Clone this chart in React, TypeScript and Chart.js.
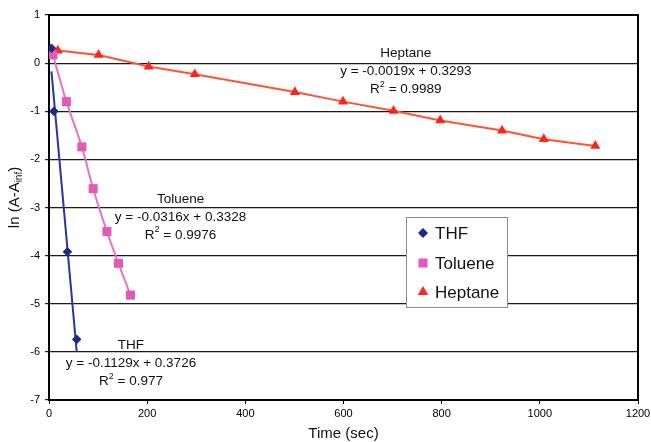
import React, { useEffect, useRef } from 'react';
import { Chart, registerables } from 'chart.js';

Chart.register(...registerables);

const FONT = '"Liberation Sans", Arial, Helvetica, sans-serif';

// ---- data ----
const thfTime = [5, 10, 37.5, 56.5];
const thfLn = [0.31, -1.0, -3.92, -5.74];
const thfFitTime = [5, 56.5];
const thfFitLn = [-0.17, -6.0];

const tolTime = [8, 35.5, 67, 90, 118, 141.5, 166];
const tolLn = [0.17, -0.8, -1.74, -2.61, -3.5, -4.16, -4.82];

const hepTime = [18, 101, 203, 297, 501, 599, 702, 797, 923, 1008, 1113];
const hepLn = [0.26, 0.17, -0.07, -0.23, -0.6, -0.8, -0.99, -1.19, -1.4, -1.58, -1.72];

const seriesNames = ['THF', 'Toluene', 'Heptane'];
const fitNames = ['Heptane', 'Toluene', 'THF'];
const fitEquations = ['y = -0.0019x + 0.3293', 'y = -0.0316x + 0.3328', 'y = -0.1129x + 0.3726'];
const fitR2 = ['0.9989', '0.9976', '0.977'];

const xMin = 0, xMax = 1200, xStep = 200;
const yMin = -7, yMax = 1, yStep = 1;
const xTitle = 'Time (sec)';
const yTitleMain = 'ln (A-A';
const yTitleSub = 'inf';
const yTitleEnd = ')';

// ---- styles ----
const THF_MARK = '#1c2a86';
const THF_LINE = '#2636a2';
const TOL_MARK = '#e05ab6';
const TOL_LINE = '#e674c4';
const HEP_MARK = '#ff2418';
const HEP_LINE = '#ff5236';

// anchor (data coords) of the fit label blocks, same order as fitNames
const fitAnchorX = [727, 268, 167];
const fitAnchorY = [0.21, -2.82, -5.86];

const pts = (xs: number[], ys: number[]) => xs.map((x, i) => ({ x, y: ys[i] }));

function drawMarker(ctx: CanvasRenderingContext2D, kind: string, x: number, y: number, r: number, color: string) {
  ctx.save();
  ctx.fillStyle = color;
  ctx.beginPath();
  if (kind === 'diamond') {
    ctx.moveTo(x - r, y); ctx.lineTo(x, y - r); ctx.lineTo(x + r, y); ctx.lineTo(x, y + r);
  } else if (kind === 'square') {
    ctx.rect(x - r, y - r, 2 * r, 2 * r);
  } else {
    const h = Math.sqrt(3) * r;
    ctx.moveTo(x, y - r); ctx.lineTo(x + h / 2, y + r / 2); ctx.lineTo(x - h / 2, y + r / 2);
  }
  ctx.closePath();
  ctx.fill();
  ctx.restore();
}

const overlayPlugin = {
  id: 'overlay',
  afterDraw(chart: any) {
    const { ctx, chartArea, scales } = chart;
    const xs = scales.x, ys = scales.y;
    ctx.save();
    // top and right borders
    ctx.strokeStyle = '#000';
    ctx.lineWidth = 2;
    ctx.beginPath();
    ctx.moveTo(chartArea.left, chartArea.top);
    ctx.lineTo(chartArea.right, chartArea.top);
    ctx.lineTo(chartArea.right, chartArea.bottom);
    ctx.stroke();

    // fit labels
    ctx.fillStyle = '#111';
    ctx.textBaseline = 'middle';
    const f = `13.5px ${FONT}`;
    const fs = `9px ${FONT}`;
    for (let i = 0; i < fitNames.length; i++) {
      const cx = xs.getPixelForValue(fitAnchorX[i]);
      const cy = ys.getPixelForValue(fitAnchorY[i]);
      ctx.font = f;
      ctx.textAlign = 'center';
      ctx.fillText(fitNames[i], cx, cy);
      ctx.fillText(fitEquations[i], cx, cy + 18);
      ctx.textAlign = 'left';
      const rest = ' = ' + fitR2[i];
      ctx.font = f;
      const wR = ctx.measureText('R').width;
      const wRest = ctx.measureText(rest).width;
      ctx.font = fs;
      const w2 = ctx.measureText('2').width;
      const total = wR + w2 + wRest;
      const sx = cx - total / 2;
      const ly = cy + 36;
      ctx.font = f;
      ctx.fillText('R', sx, ly);
      ctx.font = fs;
      ctx.fillText('2', sx + wR, ly - 5);
      ctx.font = f;
      ctx.fillText(rest, sx + wR + w2, ly);
    }

    // legend box
    const lx = 406, ly0 = 217, lw = 101, lh = 90;
    ctx.fillStyle = '#fff';
    ctx.fillRect(lx, ly0, lw, lh);
    ctx.strokeStyle = '#8a8a8a';
    ctx.lineWidth = 1;
    ctx.strokeRect(lx + 0.5, ly0 + 0.5, lw, lh);
    const kinds = ['diamond', 'square', 'triangle'];
    const cols = [THF_MARK, TOL_MARK, HEP_MARK];
    const rads = [5, 4.5, 6];
    const rowY = [233, 263, 292];
    ctx.font = `17px ${FONT}`;
    ctx.textAlign = 'left';
    ctx.textBaseline = 'middle';
    for (let i = 0; i < 3; i++) {
      drawMarker(ctx, kinds[i], 423, rowY[i], rads[i], cols[i]);
      ctx.fillStyle = '#111';
      ctx.fillText(seriesNames[i], 435, rowY[i] + 1);
    }

    // x title
    ctx.font = `15px ${FONT}`;
    ctx.textAlign = 'center';
    ctx.fillStyle = '#111';
    ctx.fillText(xTitle, (chartArea.left + chartArea.right) / 2, 434);

    // y title (rotated, with subscript)
    ctx.save();
    ctx.translate(15, 197.5);
    ctx.rotate(-Math.PI / 2);
    const fm = `15px ${FONT}`;
    const fsub = `10px ${FONT}`;
    ctx.font = fm;
    const w1 = ctx.measureText(yTitleMain).width;
    const w3 = ctx.measureText(yTitleEnd).width;
    ctx.font = fsub;
    const wsub = ctx.measureText(yTitleSub).width;
    const tx = -(w1 + wsub + w3) / 2;
    ctx.textAlign = 'left';
    ctx.font = fm;
    ctx.fillText(yTitleMain, tx, 0);
    ctx.font = fsub;
    ctx.fillText(yTitleSub, tx + w1, 4);
    ctx.font = fm;
    ctx.fillText(yTitleEnd, tx + w1 + wsub, 0);
    ctx.restore();

    ctx.restore();
  },
};

export default function App() {
  const ref = useRef<HTMLCanvasElement | null>(null);
  useEffect(() => {
    document.body.style.margin = '0';
    const canvas = ref.current!;
    const chart = new Chart(canvas, {
      type: 'scatter',
      data: {
        datasets: [
          {
            label: 'THF',
            data: pts(thfTime, thfLn),
            showLine: false,
            pointStyle: 'rectRot',
            pointRadius: 4.3,
            pointBackgroundColor: THF_MARK,
            pointBorderColor: THF_MARK,
            pointBorderWidth: 1,
          },
          {
            label: 'THF fit',
            data: pts(thfFitTime, thfFitLn),
            showLine: true,
            borderColor: THF_LINE,
            borderWidth: 2,
            pointRadius: 0,
          },
          {
            label: 'Toluene',
            data: pts(tolTime, tolLn),
            showLine: true,
            borderColor: TOL_LINE,
            borderWidth: 2,
            tension: 0.3,
            pointStyle: 'rect',
            pointRadius: 6.4,
            pointBackgroundColor: TOL_MARK,
            pointBorderColor: TOL_MARK,
            pointBorderWidth: 0,
          },
          {
            label: 'Heptane',
            data: pts(hepTime, hepLn),
            showLine: true,
            borderColor: HEP_LINE,
            borderWidth: 2,
            tension: 0,
            pointStyle: 'triangle',
            pointRadius: 5.8,
            pointBackgroundColor: HEP_MARK,
            pointBorderColor: HEP_MARK,
            pointBorderWidth: 0,
          },
        ],
      },
      options: {
        animation: false,
        responsive: false,
        devicePixelRatio: 1,
        layout: { padding: { top: 15, right: 13, left: 0, bottom: 0 } },
        plugins: { legend: { display: false }, tooltip: { enabled: false } },
        scales: {
          x: {
            type: 'linear',
            min: xMin,
            max: xMax,
            afterFit: (s: any) => { s.height = 42; s.paddingRight = 0; s.paddingLeft = 0; },
            ticks: {
              stepSize: xStep,
              color: '#000',
              font: { family: FONT, size: 11 },
              padding: 3,
              maxRotation: 0,
              callback: (v: any) => String(v),
            },
            grid: { drawOnChartArea: false, drawTicks: true, tickLength: 4, color: '#000', lineWidth: 1 },
            border: { display: true, color: '#000', width: 2 },
          },
          y: {
            type: 'linear',
            min: yMin,
            max: yMax,
            afterFit: (s: any) => { s.width = 49; },
            ticks: {
              stepSize: yStep,
              color: '#000',
              font: { family: FONT, size: 11 },
              padding: 5,
              callback: (v: any) => String(v),
            },
            grid: { drawOnChartArea: true, drawTicks: true, tickLength: 4, color: '#1a1a1a', lineWidth: 1.2 },
            border: { display: true, color: '#000', width: 2 },
          },
        },
      },
      plugins: [overlayPlugin],
    });
    return () => chart.destroy();
  }, []);
  return (
    <div style={{ width: 651, height: 442, background: '#fff' }}>
      <canvas ref={ref} width={651} height={442} style={{ display: 'block' }} />
    </div>
  );
}
